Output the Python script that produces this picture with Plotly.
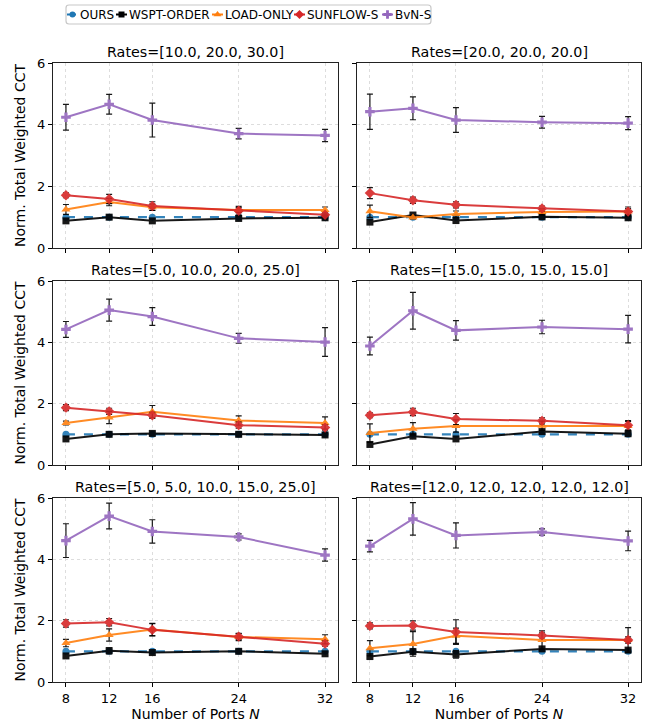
import plotly.graph_objects as go

ports = [8, 12, 16, 24, 32]
titles = ["Rates=[10.0, 20.0, 30.0]", "Rates=[20.0, 20.0, 20.0]",
          "Rates=[5.0, 10.0, 20.0, 25.0]", "Rates=[15.0, 15.0, 15.0, 15.0]",
          "Rates=[5.0, 5.0, 10.0, 15.0, 25.0]", "Rates=[12.0, 12.0, 12.0, 12.0, 12.0]"]
series = ["OURS", "WSPT-ORDER", "LOAD-ONLY", "SUNFLOW-S", "BvN-S"]

ours = [[1.0, 1.0, 1.0, 1.0, 1.0]] * 6
ours_err = [[0.02, 0.02, 0.02, 0.02, 0.02]] * 6

wspt = [[0.88, 1.00, 0.88, 0.96, 0.98],
        [0.84, 1.07, 0.89, 1.01, 0.98],
        [0.85, 1.00, 1.03, 1.00, 0.98],
        [0.67, 0.94, 0.85, 1.09, 1.02],
        [0.85, 1.02, 0.96, 1.00, 0.92],
        [0.83, 0.99, 0.90, 1.08, 1.04]]
wspt_err = [[0.06, 0.07, 0.05, 0.08, 0.05],
            [0.06, 0.05, 0.06, 0.04, 0.04],
            [0.05, 0.04, 0.06, 0.06, 0.05],
            [0.05, 0.06, 0.06, 0.05, 0.05],
            [0.05, 0.10, 0.08, 0.05, 0.05],
            [0.05, 0.08, 0.12, 0.05, 0.05]]

load = [[1.25, 1.49, 1.32, 1.23, 1.23],
        [1.19, 0.99, 1.10, 1.17, 1.18],
        [1.37, 1.55, 1.74, 1.45, 1.37],
        [1.04, 1.18, 1.27, 1.28, 1.27],
        [1.27, 1.53, 1.71, 1.47, 1.39],
        [1.10, 1.24, 1.51, 1.37, 1.37]]
load_err = [[0.16, 0.12, 0.10, 0.08, 0.10],
            [0.20, 0.05, 0.10, 0.10, 0.15],
            [0.06, 0.20, 0.20, 0.15, 0.20],
            [0.30, 0.20, 0.20, 0.15, 0.15],
            [0.12, 0.20, 0.20, 0.12, 0.15],
            [0.25, 0.40, 0.25, 0.30, 0.10]]

sun = [[1.71, 1.59, 1.36, 1.21, 1.08],
       [1.78, 1.55, 1.40, 1.28, 1.18],
       [1.87, 1.75, 1.62, 1.30, 1.22],
       [1.62, 1.73, 1.50, 1.44, 1.30],
       [1.91, 1.95, 1.70, 1.48, 1.25],
       [1.83, 1.84, 1.63, 1.52, 1.37]]
sun_err = [[0.08, 0.15, 0.14, 0.14, 0.05],
           [0.18, 0.10, 0.10, 0.08, 0.10],
           [0.10, 0.10, 0.10, 0.10, 0.08],
           [0.08, 0.12, 0.18, 0.10, 0.15],
           [0.12, 0.12, 0.20, 0.10, 0.08],
           [0.10, 0.15, 0.40, 0.08, 0.40]]

bvn = [[4.24, 4.66, 4.15, 3.71, 3.65],
       [4.42, 4.53, 4.15, 4.08, 4.05],
       [4.42, 5.05, 4.84, 4.13, 4.01],
       [3.88, 5.03, 4.39, 4.50, 4.43],
       [4.61, 5.41, 4.91, 4.73, 4.14],
       [4.43, 5.32, 4.78, 4.89, 4.60]]
bvn_err = [[0.42, 0.32, 0.55, 0.17, 0.20],
           [0.57, 0.37, 0.40, 0.19, 0.21],
           [0.26, 0.36, 0.29, 0.16, 0.47],
           [0.29, 0.60, 0.32, 0.22, 0.45],
           [0.55, 0.42, 0.38, 0.10, 0.20],
           [0.19, 0.53, 0.41, 0.10, 0.32]]

y_ticks = [0, 2, 4, 6]
x_title = "Number of Ports <i>N</i>"
y_title = "Norm. Total Weighted CCT"

W, H = 651, 723
FONT = "DejaVu Sans"
colors = ["#1f77b4", "#000000", "#ff7f0e", "#d62728", "#9467bd"]
symbols = ["circle", "square", "triangle-up", "diamond", "cross"]
msizes = [7, 7, 8, 8, 8]
dashes = ["dash", "solid", "solid", "solid", "solid"]
data = [(ours, ours_err), (wspt, wspt_err), (load, load_err), (sun, sun_err), (bvn, bvn_err)]

# panel frames in pixels (left, right, top, bottom)
cols_px = [(53, 338), (357, 641)]
rows_px = [(63, 248), (281, 465), (498, 682)]

fig = go.Figure()
for p in range(6):
    r, c = divmod(p, 2)
    ax = "" if p == 0 else str(p + 1)
    x0, x1 = cols_px[c]
    t0, t1 = rows_px[r]
    fig.update_layout(**{
        f"xaxis{ax}": dict(domain=[x0 / W, x1 / W], anchor=f"y{ax}", range=[6.8, 33.2],
                           automargin=False,
                           tickvals=ports, showticklabels=(r == 2), ticks="outside", ticklen=4,
                           tickwidth=1.2, tickcolor="black", showline=True, linecolor="#222",
                           linewidth=1.3, mirror=True, showgrid=True, gridcolor="#dddddd",
                           griddash="dot", gridwidth=1, zeroline=False,
                           tickfont=dict(family=FONT, size=13, color="black"),
                           title=dict(text=x_title if r == 2 else "", standoff=1,
                                      font=dict(family=FONT, size=14, color="black"))),
        f"yaxis{ax}": dict(domain=[1 - t1 / H, 1 - t0 / H], anchor=f"x{ax}", range=[0, 6],
                           automargin=False,
                           tickvals=y_ticks, showticklabels=(c == 0), ticks="outside", ticklen=4,
                           tickwidth=1.2, tickcolor="black", showline=True, linecolor="#222",
                           linewidth=1.3, mirror=True, showgrid=True, gridcolor="#dddddd",
                           griddash="dot", gridwidth=1, zeroline=False,
                           tickfont=dict(family=FONT, size=13, color="black"),
                           title=dict(text=y_title if c == 0 else "", standoff=8,
                                      font=dict(family=FONT, size=14, color="black"))),
    })
    fig.add_annotation(text=titles[p], x=(x0 + x1) / 2 / W, y=1 - (t0 - 1) / H,
                       xref="paper", yref="paper", xanchor="center", yanchor="bottom",
                       showarrow=False, font=dict(family=FONT, size=14.3, color="black"))
    for s, (vals, errs) in enumerate(data):
        fig.add_trace(go.Scatter(
            x=ports, y=vals[p], xaxis=f"x{ax}", yaxis=f"y{ax}", mode="lines+markers",
            name=series[s], showlegend=False,
            line=dict(color=colors[s], width=2 if s else 2.2, dash=dashes[s]),
            marker=dict(symbol=symbols[s], size=msizes[s], color=colors[s]),
            opacity=0.9,
            error_y=dict(type="data", array=errs[p], color="black", thickness=1.2, width=3)))

# custom compact legend on a small pixel-scaled axis covering only the legend band
LX0, LX1, LY0, LY1 = 60, 440, 0, 30
leg_x = [67, 116, 212, 294, 382]
fig.update_layout(xaxis7=dict(domain=[LX0 / W, LX1 / W], range=[LX0, LX1], visible=False,
                              automargin=False, anchor="y7", fixedrange=True,
                              showgrid=False, zeroline=False),
                  yaxis7=dict(domain=[1 - LY1 / H, 1 - LY0 / H], range=[LY1, LY0], visible=False,
                              automargin=False, anchor="x7", fixedrange=True,
                              showgrid=False, zeroline=False))
# rounded legend frame
bx0, bx1, by0, by1, rad = 66, 431, 5, 24, 3
path = (f"M {bx0 + rad},{by0} L {bx1 - rad},{by0} Q {bx1},{by0} {bx1},{by0 + rad} "
        f"L {bx1},{by1 - rad} Q {bx1},{by1} {bx1 - rad},{by1} L {bx0 + rad},{by1} "
        f"Q {bx0},{by1} {bx0},{by1 - rad} L {bx0},{by0 + rad} Q {bx0},{by0} {bx0 + rad},{by0} Z")
fig.add_shape(type="path", xref="x7", yref="y7", path=path,
              line=dict(color="#c8c8c8", width=1.2), fillcolor="rgba(0,0,0,0)", layer="above")
for s in range(5):
    lx = leg_x[s]
    fig.add_trace(go.Scatter(x=[lx, lx + 5.5, lx + 11], y=[14.5, 14.5, 14.5], xaxis="x7", yaxis="y7",
                             mode="lines", showlegend=False, hoverinfo="skip",
                             line=dict(color=colors[s], width=2, dash="dot" if s == 0 else "solid")))
    fig.add_trace(go.Scatter(x=[lx + 5.5], y=[14.5], xaxis="x7", yaxis="y7", mode="markers",
                             showlegend=False, hoverinfo="skip",
                             marker=dict(symbol=symbols[s], size=msizes[s] - 1, color=colors[s])))
    fig.add_annotation(text=series[s], x=lx + 11.5, y=14.5, xref="x7", yref="y7", xanchor="left",
                       yanchor="middle", showarrow=False, borderpad=0,
                       font=dict(family=FONT, size=12, color="black"))

fig.update_layout(width=W, height=H, margin=dict(l=0, r=0, t=0, b=0), autosize=False,
                  paper_bgcolor="white", plot_bgcolor="rgba(0,0,0,0)", showlegend=False,
                  font=dict(family=FONT, color="black"))
fig.write_html("out.html", config={"displayModeBar": False},
               post_script="document.body.style.margin='0';document.body.style.overflow='hidden';")
